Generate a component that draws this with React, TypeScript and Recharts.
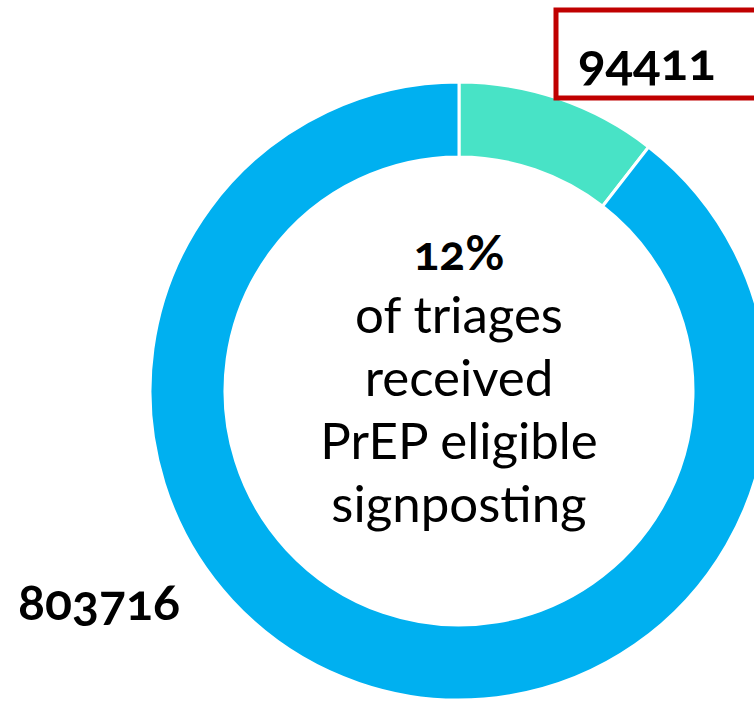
import React from 'react';
import { PieChart, Pie, Cell } from 'recharts';

const categories = ['PrEP eligible signposting', 'Other triages'];
const values = [94411, 803716];
const colors = ['#48E3C6', '#00B0F0'];
const centerPercent = '12%';
const centerLines = ['of triages', 'received', 'PrEP eligible', 'signposting'];

const data = categories.map((name, i) => ({ name, value: values[i] }));

const FONT = "Lato, 'Open Sans', sans-serif";

const renderLabel = (props: any) => {
  const { index, value, cx, cy } = props;
  if (index === 0) {
    return (
      <g>
        <rect x={556} y={10} width={220} height={88} fill="#fff" stroke="#C00000" strokeWidth={5} />
        <text x={578} y={80} fontFamily={FONT} fontWeight={700} fontSize={51} fill="#000"
          style={{ fontVariantNumeric: 'oldstyle-nums' }}>{value}</text>
        <text x={cx} y={cy - 121} textAnchor="middle" fontFamily={FONT} fontWeight={700} fontSize={48} fill="#000"
          style={{ fontVariantNumeric: 'oldstyle-nums' }}>{centerPercent}</text>
        {centerLines.map((l, i) => (
          <text key={l} x={cx} y={cy - 58 + i * 63} textAnchor="middle" fontFamily={FONT} fontSize={51} fill="#000">{l}</text>
        ))}
      </g>
    );
  }
  return (
    <text x={18} y={620} fontFamily={FONT} fontWeight={700} fontSize={50} fill="#000"
      style={{ fontVariantNumeric: 'oldstyle-nums' }}>{value}</text>
  );
};

export default function App() {
  return (
    <div style={{ position: 'absolute', left: 0, top: 0, width: 754, height: 702, background: '#fff', overflow: 'hidden' }}>
      <PieChart width={754} height={702} margin={{ top: 0, right: 0, bottom: 0, left: 0 }}>
        <Pie
          data={data}
          dataKey="value"
          cx={459}
          cy={391}
          outerRadius={309}
          innerRadius={234}
          startAngle={90}
          endAngle={-270}
          stroke="#fff"
          strokeWidth={3}
          isAnimationActive={false}
          label={renderLabel}
          labelLine={false}
        >
          {data.map((d, i) => (
            <Cell key={d.name} fill={colors[i]} />
          ))}
        </Pie>
      </PieChart>
    </div>
  );
}
